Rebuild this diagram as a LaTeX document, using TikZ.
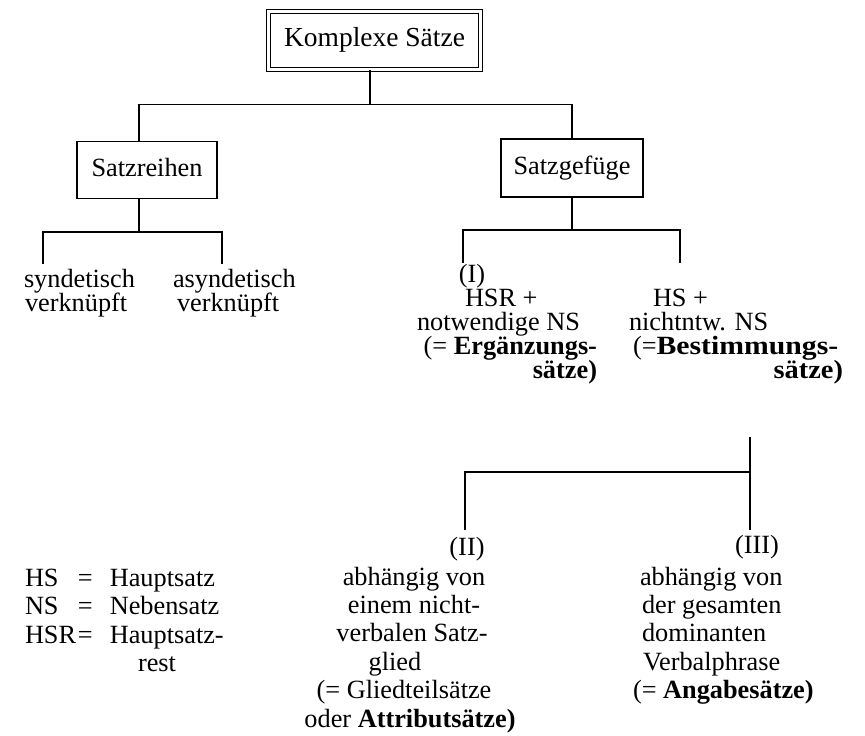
\documentclass[tikz,border=0pt]{standalone}
\usepackage{graphicx}
\usepackage{fontspec}
\setmainfont{Liberation Serif}
\begin{document}
\begin{tikzpicture}[x=1pt,y=-1pt,
  every node/.style={font=\fontsize{26.3}{28}\selectfont, inner sep=0pt, outer sep=0pt, text height=17pt, text depth=5pt},
  txt/.style={anchor=base west},
  txtc/.style={anchor=base},
  txte/.style={anchor=base east},
  boxnode/.style={draw, line width=1.1pt, minimum height=57pt},
  conn/.style={draw, line width=1.1pt}]
\useasboundingbox (0,0) rectangle (865,736);

% boxes
\node[draw, line width=0.9pt, double, double distance=2.4pt, minimum width=212pt, minimum height=58pt, font=\fontsize{27.5}{29}\selectfont] (k) at (374.5,40.5) {Komplexe Sätze};
\node[boxnode, minimum width=140pt] (sr) at (147,170) {Satzreihen};
\node[boxnode, minimum width=142pt, minimum height=58pt] (sg) at (572,168) {Satzgefüge};

% junction coordinates
\coordinate (j0) at (370,104.5);
\coordinate (jl) at (139,104.5);
\coordinate (jr) at (572,104.5);
\coordinate (j1) at (139,232);
\coordinate (j1l) at (43,232);
\coordinate (j1r) at (222,232);
\coordinate (d1l) at (43,264);
\coordinate (d1r) at (222,264);
\coordinate (j2) at (572,230);
\coordinate (j2l) at (463,230);
\coordinate (j2r) at (680,230);
\coordinate (d2l) at (463,263);
\coordinate (d2r) at (680,263);
\coordinate (j3t) at (750,437);
\coordinate (j3) at (750,472);
\coordinate (j3l) at (465,472);
\coordinate (d3l) at (465,530);
\coordinate (d3r) at (750,530);

% texts: Satzreihen branch
\node[txt] (s1) at (24,287) {syndetisch};
\node[txt] (s2) at (25,311) {verknüpft};
\node[txt] (a1) at (173,287) {asyndetisch};
\node[txt] (a2) at (177,311) {verknüpft};

% (I)
\node[txtc] (i0) at (472,282) {(I)};
\node[txt] (i1) at (465,306) {HSR +};
\node[txt] (i2) at (417,330) {notwendige NS};
\node[txte] (i3) at (597,354) {(= \textbf{Ergänzungs-}};
\node[txte] (i4) at (597,378) {\textbf{sätze)}};

% Bestimmungssätze
\node[txt] (b1) at (653,306) {HS +};
\node[txt] (b2) at (629,330) {nichtntw. NS};
\node[txt] (b3) at (633,354) {(=\scalebox{1.13}[1]{\textbf{Bestimmungs-}}};
\node[txte] (b4) at (843,378) {\scalebox{1.08}[1]{\textbf{sätze)}}};

% legend
\node[txt] (l1) at (25,586) {\makebox[53pt][l]{HS}=\hspace{17pt}Hauptsatz};
\node[txt] (l2) at (25,614) {\makebox[53pt][l]{NS}=\hspace{17pt}Nebensatz};
\node[txt] (l3) at (25,643) {\makebox[53pt][l]{HSR}=\hspace{17pt}Hauptsatz-};
\node[txt] (l4) at (138,671) {rest};

% (II)
\node[txtc] (c0) at (467,555) {(II)};
\node[txtc] (c1) at (414,585) {abhängig von};
\node[txtc] (c2) at (414,613) {einem nicht-};
\node[txtc] (c3) at (412,641) {verbalen Satz-};
\node[txtc] (c4) at (395,670) {glied};
\node[txtc] (c5) at (404,698) {(= Gliedteilsätze};
\node[txtc] (c6) at (410,727) {oder \textbf{Attributsätze)}};

% (III)
\node[txtc] (e0) at (757,553) {(III)};
\node[txt] (e1) at (640,585) {abhängig von};
\node[txt] (e2) at (642,613) {der gesamten};
\node[txt] (e3) at (642,641) {dominanten};
\node[txt] (e4) at (643,670) {Verbalphrase};
\node[txt] (e5) at (633,698) {(= \textbf{Angabesätze)}};

% connectors
\draw[conn] (k.south -| j0) -- (j0);
\draw[conn] (sr.north -| jl) -- (jl) -- (jr) -- (sg.north -| jr);
\draw[conn] (sr.south -| j1) -- (j1);
\draw[conn] (d1l) -- (j1l) -- (j1r) -- (d1r);
\draw[conn] (sg.south -| j2) -- (j2);
\draw[conn] (d2l) -- (j2l) -- (j2r) -- (d2r);
\draw[conn] (j3t) -- (j3);
\draw[conn] (d3l) -- (j3l) -- (j3) -- (d3r);
\end{tikzpicture}
\end{document}
